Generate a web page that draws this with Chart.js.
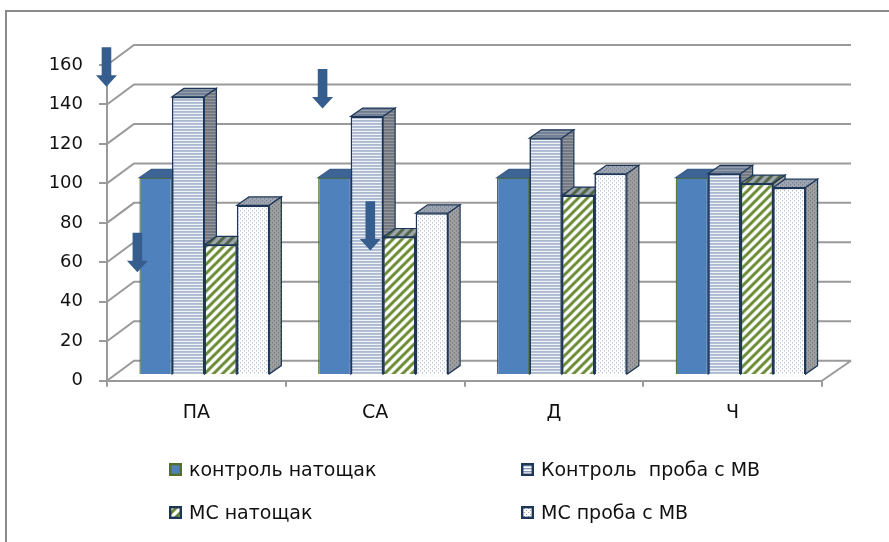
<!DOCTYPE html>
<html>
<head>
<meta charset="utf-8">
<script src="https://cdn.jsdelivr.net/npm/chart.js@4.4.1/dist/chart.umd.min.js"></script>
<style>
  html, body { margin: 0; padding: 0; background: #fff; }
  canvas { display: block; }
</style>
</head>
<body>
<canvas id="chart" width="889" height="542"></canvas>
<script>
const categories = ['ПА', 'СА', 'Д', 'Ч'];
const seriesNames = ['контроль натощак', 'Контроль  проба с МВ', 'МС натощак', 'МС проба с МВ'];
const controlFasting = [100, 100, 100, 100];
const controlLoad = [141, 131, 120, 102];
const msFasting = [66, 70, 91, 97];
const msLoad = [86, 82, 102, 95];
const yTicks = [0, 20, 40, 60, 80, 100, 120, 140, 160];

// down arrows: "at" is a position on the category axis (index units), from/to are y values
const arrows = [
  { at: -0.503, from: 169, to: 149 },
  { at: -0.33, from: 75, to: 55 },
  { at: 0.706, from: 158, to: 138 },
  { at: 0.973, from: 91, to: 66 }
];

const GRID = '#9a9a9a';
const WALL_DX = 29, WALL_DY = -20;   // depth of the back wall
const BAR_DX = 8, BAR_DY = -5.7;     // bars sit a bit behind the front plane
const DEPTH_DX = 12, DEPTH_DY = -8.4; // bar thickness

const canvas = document.getElementById('chart');
const ctx = canvas.getContext('2d');

function makePattern(w, h, draw) {
  const c = document.createElement('canvas');
  c.width = w; c.height = h;
  const g = c.getContext('2d');
  g.fillStyle = '#fff';
  g.fillRect(0, 0, w, h);
  draw(g);
  return ctx.createPattern(c, 'repeat');
}

const stripePattern = makePattern(3, 3, g => {
  g.fillStyle = '#8599b8'; g.fillRect(0, 0, 3, 1);
  g.fillStyle = '#cdd6e4'; g.fillRect(0, 1, 3, 1);
});
const hatchPattern = makePattern(9, 9, g => {
  g.strokeStyle = '#6a8a33';
  g.lineWidth = 3;
  g.beginPath();
  g.moveTo(-2, 2); g.lineTo(2, -2);
  g.moveTo(0, 9); g.lineTo(9, 0);
  g.moveTo(7, 11); g.lineTo(11, 7);
  g.stroke();
});
const dotPattern = makePattern(4, 4, g => {
  g.fillStyle = '#97a5ba';
  g.fillRect(0, 0, 1, 1);
  g.fillRect(2, 2, 1, 1);
});

Chart.defaults.font.family = "'DejaVu Sans', sans-serif";

function face(c, pts, fill, shade, stroke, lw) {
  c.beginPath();
  c.moveTo(pts[0][0], pts[0][1]);
  for (let i = 1; i < pts.length; i++) c.lineTo(pts[i][0], pts[i][1]);
  c.closePath();
  c.fillStyle = fill; c.fill();
  c.fillStyle = shade; c.fill();
  c.strokeStyle = stroke; c.lineWidth = lw; c.stroke();
}

const frame = {
  id: 'frame',
  beforeDraw(chart) {
    const c = chart.ctx;
    c.save();
    c.fillStyle = '#fff';
    c.fillRect(0, 0, chart.width, chart.height);
    c.strokeStyle = '#8a8a8a';
    c.lineWidth = 2;
    c.strokeRect(6, 11, chart.width + 50, chart.height + 50);
    c.restore();
  }
};

const bars3d = {
  id: 'bars3d',
  beforeDatasetsDraw(chart) {
    const c = chart.ctx, a = chart.chartArea, y = chart.scales.y;
    c.save();
    c.strokeStyle = GRID;
    c.lineWidth = 2;
    c.beginPath();
    yTicks.forEach(v => {
      const py = y.getPixelForValue(v);
      c.moveTo(a.left, py);
      c.lineTo(a.left + WALL_DX - 2, py + WALL_DY);
      c.lineTo(a.right + WALL_DX, py + WALL_DY);
    });
    const p0 = y.getPixelForValue(0);
    c.moveTo(a.right, p0);
    c.lineTo(a.right + WALL_DX, p0 + WALL_DY);
    c.stroke();
    c.restore();
  },
  beforeDatasetDraw() {
    return false; // drawn below in left-to-right order
  },
  afterDatasetsDraw(chart) {
    const c = chart.ctx;
    c.save();
    c.translate(BAR_DX, BAR_DY);
    chart.data.datasets.forEach((ds, i) => {
      chart.getDatasetMeta(i).data.forEach(bar => {
        bar.draw(c);
        const { x, y, base, width } = bar.getProps(['x', 'y', 'base', 'width'], true);
        const l = x - width / 2, r = x + width / 2;
        face(c, [[l, y], [r, y], [r + DEPTH_DX, y + DEPTH_DY], [l + DEPTH_DX, y + DEPTH_DY]],
          ds.backgroundColor, ds.topShade, ds.faceStroke, 1.2);
        face(c, [[r, y], [r + DEPTH_DX, y + DEPTH_DY], [r + DEPTH_DX, base + DEPTH_DY], [r, base]],
          ds.backgroundColor, ds.sideShade, ds.faceStroke, 1.2);
      });
    });
    c.restore();
  },
  afterDraw(chart) {
    const c = chart.ctx, xs = chart.scales.x, ys = chart.scales.y;
    c.save();
    // arrows
    c.fillStyle = '#355e8e';
    arrows.forEach(ar => {
      const px = xs.getPixelForValue(ar.at);
      const top = ys.getPixelForValue(ar.from);
      const tip = ys.getPixelForValue(ar.to);
      const head = 11.5;
      c.beginPath();
      c.moveTo(px - 4.8, top);
      c.lineTo(px + 4.8, top);
      c.lineTo(px + 4.8, tip - head);
      c.lineTo(px + 10.5, tip - head);
      c.lineTo(px, tip);
      c.lineTo(px - 10.5, tip - head);
      c.lineTo(px - 4.8, tip - head);
      c.closePath();
      c.fill();
    });
    // legend, two columns
    const cols = [169, 521], rows = [476, 519];
    c.font = "19px 'DejaVu Sans', sans-serif";
    c.textBaseline = 'alphabetic';
    c.textAlign = 'left';
    chart.data.datasets.forEach((ds, i) => {
      const lx = cols[i % 2], ly = rows[Math.floor(i / 2)];
      c.fillStyle = ds.backgroundColor;
      c.fillRect(lx, ly - 13, 13, 13);
      c.strokeStyle = ds.borderColor;
      c.lineWidth = 2.4;
      c.strokeRect(lx + 1.2, ly - 11.8, 10.6, 10.6);
      c.fillStyle = '#111';
      c.fillText(ds.label, lx + 20, ly);
    });
    c.restore();
  }
};

const navy = '#1d3658';

new Chart(ctx, {
  type: 'bar',
  data: {
    labels: categories,
    datasets: [
      { label: seriesNames[0], data: controlFasting, backgroundColor: '#4f81bd', borderColor: '#56702c', borderWidth: 1.3,
        faceStroke: '#3b5f8c', topShade: 'rgba(30,45,75,0.35)', sideShade: 'rgba(20,30,50,0.45)' },
      { label: seriesNames[1], data: controlLoad, backgroundColor: stripePattern, borderColor: navy, borderWidth: 1.6,
        faceStroke: navy, topShade: 'rgba(40,55,80,0.45)', sideShade: 'rgba(40,40,40,0.45)' },
      { label: seriesNames[2], data: msFasting, backgroundColor: hatchPattern, borderColor: navy, borderWidth: 1.6,
        faceStroke: navy, topShade: 'rgba(40,55,80,0.45)', sideShade: 'rgba(40,40,40,0.45)' },
      { label: seriesNames[3], data: msLoad, backgroundColor: dotPattern, borderColor: navy, borderWidth: 1.6,
        faceStroke: navy, topShade: 'rgba(40,55,80,0.45)', sideShade: 'rgba(40,40,40,0.45)' }
    ]
  },
  options: {
    responsive: false,
    animation: false,
    layout: { padding: { top: 65, right: 67, left: 0, bottom: 0 } },
    datasets: { bar: { categoryPercentage: 0.727, barPercentage: 1, clip: false } },
    plugins: { legend: { display: false }, tooltip: { enabled: false } },
    scales: {
      x: {
        grid: { drawOnChartArea: false, offset: true, tickLength: 6, color: GRID, lineWidth: 2 },
        border: { color: GRID, width: 2 },
        ticks: { color: '#111', font: { size: 19 }, padding: 15 },
        afterFit: s => { s.height = 161.3; }
      },
      y: {
        min: 0,
        max: 160,
        afterBuildTicks: s => { s.ticks = yTicks.map(v => ({ value: v })); },
        grid: { drawOnChartArea: false, tickLength: 8, color: GRID, lineWidth: 2 },
        border: { color: GRID, width: 2 },
        ticks: { color: '#111', font: { size: 18 }, padding: 16 },
        afterFit: s => { s.width = 107; }
      }
    }
  },
  plugins: [frame, bars3d]
});
</script>
</body>
</html>
